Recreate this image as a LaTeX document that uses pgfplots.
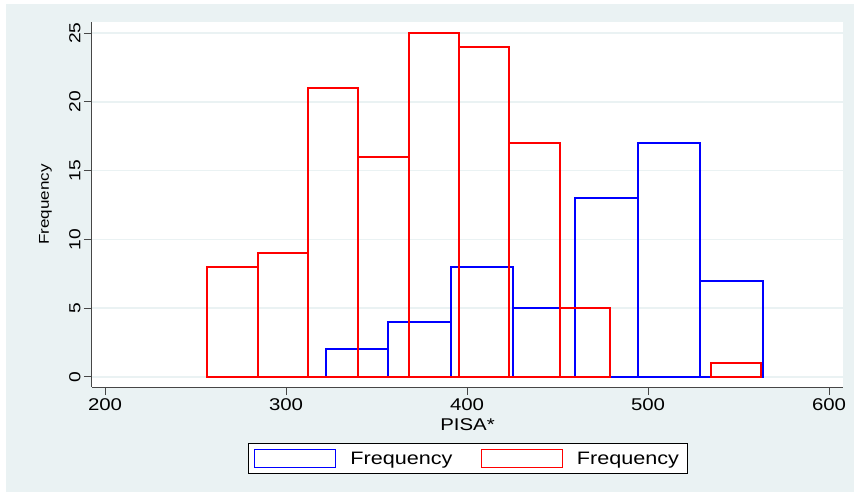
\documentclass[border=0pt]{standalone}
\usepackage{pgfplots}
\pgfplotsset{compat=1.18}
\usepackage{fontspec}
\setmainfont{Liberation Sans}[FakeStretch=1.2]
\definecolor{bgcol}{RGB}{234,242,243}
\definecolor{gridcol}{RGB}{234,242,243}
\definecolor{axcol}{RGB}{70,70,70}
\begin{document}
\begin{tikzpicture}
\path[use as bounding box] (-92pt,-106pt) rectangle (762pt,387pt);
\fill[bgcol] (-86pt,-105pt) rectangle (762pt,383pt);
\fill[white] (0pt,0pt) rectangle (751pt,365pt);
\begin{axis}[
  at={(0pt,0pt)}, anchor=south west,
  scale only axis, width=751pt, height=365pt,
  xmin=192.8, xmax=607.7, ymin=-0.73, ymax=25.8,
  axis x line=bottom, axis y line=left,
  x axis line style={-, axcol, line width=1pt},
  y axis line style={-, axcol, line width=1pt},
  xtick={200,300,400,500,600},
  ytick={0,5,10,15,20,25},
  tick align=outside,
  major tick length=8pt,
  tick style={axcol, line width=1pt},
  ymajorgrids,
  grid style={gridcol, line width=1.5pt},
  /pgf/number format/assume math mode=true,
  xticklabel style={font=\fontsize{17}{20}\selectfont, black},
  yticklabel style={font=\fontsize{16}{19}\selectfont, black, rotate=90, anchor=south},
  xlabel={PISA*},
  ylabel={\fontsize{14.2}{17}\selectfont Frequency},
  xlabel style={at={(axis description cs:0.5,-0.1197)}, anchor=base, font=\fontsize{17}{20}\selectfont},
  ylabel style={at={(axis description cs:-0.0575,0.5)}, anchor=base},
  legend style={at={(axis description cs:0.5,-0.1534)}, anchor=north,
    draw=black, line width=0.8pt, fill=white,
    font=\fontsize{18}{21}\selectfont,
    inner xsep=6pt, inner ysep=5.5pt,
    /tikz/every odd column/.append style={column sep=12pt},
    /tikz/every even column/.append style={column sep=26pt}},
  legend columns=2,
  legend cell align=left,
]
\addplot[ybar, bar shift=0pt, bar width=34.45, draw=blue, fill=none, line width=2pt,
  legend image code/.code={\draw[blue, line width=1.4pt, fill=white] (0pt,-9pt) rectangle (81pt,9pt);}]
  coordinates {(339.325,2) (373.775,4) (408.225,8) (442.675,5) (477.125,13) (511.575,17) (546.025,7)};
\addlegendentry{Frequency}
\addplot[ybar, bar shift=0pt, bar width=27.8, draw=red, fill=none, line width=2pt,
  legend image code/.code={\draw[red, line width=1.4pt, fill=white] (0pt,-9pt) rectangle (81pt,9pt);}]
  coordinates {(270.4,8) (298.2,9) (326.0,21) (353.8,16) (381.6,25) (409.4,24) (437.2,17) (465.0,5) (548.4,1)};
\addlegendentry{Frequency}
\end{axis}
\end{tikzpicture}
\end{document}
